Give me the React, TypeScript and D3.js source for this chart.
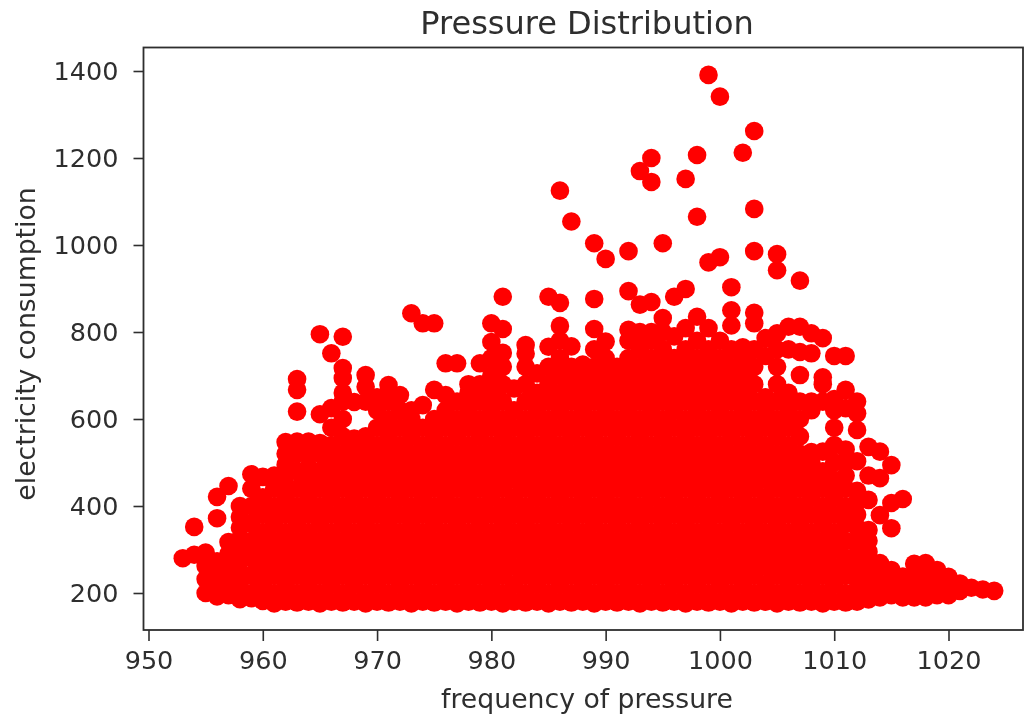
import { useEffect, useRef } from 'react';
import * as d3 from 'd3';

// pressure readings, one entry per whole hPa
const pressures = d3.range(953, 1025);

const xTicks = [950, 960, 970, 980, 990, 1000, 1010, 1020];
const yTicks = [200, 400, 600, 800, 1000, 1200, 1400];

// consumption values, top of column first
const consumption: number[][] = [
  [280],
  [352, 288],
  [293, 262, 232, 200],
  [421, 372, 273, 250, 225, 205, 192],
  [446, 317, 290, 265, 240, 215, 195],
  [400, 375, 350, 325, 300, 275, 250, 225, 205, 186],
  [473, 440, 400, 360, 320, 280, 240, 200, 188],
  [467, 420, 380, 340, 300, 260, 220, 182],
  [470, 440, 400, 360, 320, 280, 240, 200, 176],
  [547, 520, 495, 470, 440, 420, 380, 340, 300, 260, 220, 180],
  [692, 667, 617, 548, 520, 480, 440, 400, 360, 320, 280, 240, 200, 178],
  [548, 520, 490, 460, 420, 380, 340, 300, 260, 220, 180],
  [795, 611, 545, 520, 480, 440, 400, 360, 320, 280, 240, 200, 176],
  [751, 625, 580, 540, 500, 460, 420, 380, 340, 300, 260, 220, 180],
  [789, 717, 694, 660, 640, 600, 560, 520, 480, 440, 400, 360, 320, 280, 240, 200, 178],
  [639, 555, 540, 500, 460, 420, 380, 340, 300, 260, 220, 180],
  [701, 674, 640, 560, 520, 480, 440, 400, 360, 320, 280, 240, 200, 176],
  [650, 620, 580, 540, 500, 460, 420, 380, 340, 300, 260, 220, 180],
  [678, 640, 600, 560, 520, 480, 440, 400, 360, 320, 280, 240, 200, 178],
  [655, 620, 580, 540, 500, 460, 420, 380, 340, 300, 260, 220, 180],
  [843, 620, 600, 560, 520, 480, 440, 400, 360, 320, 280, 240, 200, 176],
  [820, 632, 580, 540, 500, 460, 420, 380, 340, 300, 260, 220, 180],
  [820, 667, 600, 560, 520, 480, 440, 400, 360, 320, 280, 240, 200, 178],
  [728, 655, 620, 580, 540, 500, 460, 420, 380, 340, 300, 260, 220, 180],
  [728, 640, 600, 560, 520, 480, 440, 400, 360, 320, 280, 240, 200, 176],
  [680, 660, 620, 580, 540, 500, 460, 420, 380, 340, 300, 260, 220, 180],
  [728, 680, 640, 600, 560, 520, 480, 440, 400, 360, 320, 280, 240, 200, 178],
  [820, 777, 740, 700, 660, 620, 580, 540, 500, 460, 420, 380, 340, 300, 260, 220, 180],
  [881, 807, 752, 720, 680, 640, 600, 560, 520, 480, 440, 400, 360, 320, 280, 240, 200, 176],
  [670, 620, 580, 540, 500, 460, 420, 380, 340, 300, 260, 220, 180],
  [770, 750, 720, 680, 640, 600, 560, 520, 480, 440, 400, 360, 320, 280, 240, 200, 178],
  [705, 660, 620, 580, 540, 500, 460, 420, 380, 340, 300, 260, 220, 180],
  [881, 766, 720, 680, 640, 600, 560, 520, 480, 440, 400, 360, 320, 280, 240, 200, 176],
  [1125, 867, 814, 780, 740, 700, 660, 620, 580, 540, 500, 460, 420, 380, 340, 300, 260, 220, 180],
  [1054, 767, 720, 680, 640, 600, 560, 520, 480, 440, 400, 360, 320, 280, 240, 200, 178],
  [725, 700, 660, 620, 580, 540, 500, 460, 420, 380, 340, 300, 260, 220, 180],
  [1004, 876, 807, 760, 720, 680, 640, 600, 560, 520, 480, 440, 400, 360, 320, 280, 240, 200, 176],
  [968, 778, 740, 700, 660, 620, 580, 540, 500, 460, 420, 380, 340, 300, 260, 220, 180],
  [720, 680, 640, 600, 560, 520, 480, 440, 400, 360, 320, 280, 240, 200, 178],
  [986, 894, 805, 780, 740, 700, 660, 620, 580, 540, 500, 460, 420, 380, 340, 300, 260, 220, 180],
  [1170, 863, 800, 760, 720, 680, 640, 600, 560, 520, 480, 440, 400, 360, 320, 280, 240, 200, 176],
  [1200, 1145, 869, 800, 780, 740, 700, 660, 620, 580, 540, 500, 460, 420, 380, 340, 300, 260, 220, 180],
  [1004, 832, 800, 760, 720, 680, 640, 600, 560, 520, 480, 440, 400, 360, 320, 280, 240, 200, 178],
  [881, 790, 740, 700, 660, 620, 580, 540, 500, 460, 420, 380, 340, 300, 260, 220, 180],
  [1152, 899, 809, 760, 720, 680, 640, 600, 560, 520, 480, 440, 400, 360, 320, 280, 240, 200, 176],
  [1207, 1065, 835, 780, 740, 700, 660, 620, 580, 540, 500, 460, 420, 380, 340, 300, 260, 220, 180],
  [1391, 960, 809, 760, 720, 680, 640, 600, 560, 520, 480, 440, 400, 360, 320, 280, 240, 200, 178],
  [1341, 972, 780, 740, 700, 660, 620, 580, 540, 500, 460, 420, 380, 340, 300, 260, 220, 180],
  [903, 850, 815, 760, 720, 680, 640, 600, 560, 520, 480, 440, 400, 360, 320, 280, 240, 200, 176],
  [1212, 765, 740, 700, 660, 620, 580, 540, 500, 460, 420, 380, 340, 300, 260, 220, 180],
  [1262, 1083, 986, 844, 820, 760, 720, 680, 640, 600, 560, 520, 480, 440, 400, 360, 320, 280, 240, 200, 178],
  [786, 745, 650, 620, 580, 540, 500, 460, 420, 380, 340, 300, 260, 220, 180],
  [979, 942, 797, 760, 720, 680, 640, 600, 560, 520, 480, 440, 400, 360, 320, 280, 240, 200, 176],
  [812, 760, 660, 620, 580, 540, 500, 460, 420, 380, 340, 300, 260, 220, 180],
  [918, 812, 754, 701, 640, 600, 560, 520, 480, 440, 400, 360, 320, 280, 240, 200, 178],
  [797, 751, 640, 620, 524, 500, 460, 420, 380, 340, 300, 260, 220, 180],
  [786, 696, 680, 640, 525, 480, 440, 400, 360, 320, 280, 240, 200, 176],
  [745, 646, 620, 580, 540, 500, 460, 420, 380, 340, 300, 260, 220, 180],
  [745, 667, 625, 530, 500, 470, 440, 400, 360, 320, 280, 240, 200, 178],
  [640, 613, 575, 503, 435, 410, 380, 350, 320, 290, 260, 230, 200, 180],
  [536, 470, 414, 345, 320, 295, 270, 245, 220, 200, 185],
  [525, 464, 379, 269, 245, 225, 205, 190],
  [494, 407, 349, 253, 225, 195],
  [416, 238, 210, 190],
  [267, 235, 205, 190],
  [269, 240, 210, 190],
  [253, 225, 200, 195],
  [237, 215, 195],
  [222, 205],
  [212],
  [208],
  [205],
];

const points = pressures.flatMap((p, i) => consumption[i].map(v => ({ p, v })));

const width = 1024;
const height = 715;
const left = 143.5;
const right = 1023;
const top = 47.5;
const bottom = 630;
const fontFamily = '"DejaVu Sans", sans-serif';
const ink = '#2e2e2e';

export default function App() {
  const svgRef = useRef<SVGSVGElement>(null);

  useEffect(() => {
    if (!svgRef.current) return;
    const svg = d3.select(svgRef.current);
    svg.selectAll('*').remove();

    const x = d3.scaleLinear().domain([950, 1020]).range([148.5, 948.5]);
    const y = d3.scaleLinear().domain([200, 1400]).range([593, 71]);

    // Points
    svg.append('g')
      .selectAll('circle')
      .data(points)
      .join('circle')
      .attr('cx', d => x(d.p))
      .attr('cy', d => y(d.v))
      .attr('r', 9.3)
      .attr('fill', '#ff0000');

    // Axes
    const xAxis = svg.append('g')
      .attr('transform', `translate(0,${bottom})`)
      .call(d3.axisBottom(x).tickValues(xTicks).tickSize(11).tickPadding(10).tickFormat(d => String(d)));
    const yAxis = svg.append('g')
      .attr('transform', `translate(${left},0)`)
      .call(d3.axisLeft(y).tickValues(yTicks).tickSize(10).tickPadding(15).tickFormat(d => String(d)));

    [xAxis, yAxis].forEach(axis => {
      axis.select('.domain').remove();
      axis.selectAll('line').attr('stroke', ink).attr('stroke-width', 1.6);
      axis.selectAll('text')
        .style('font-family', fontFamily)
        .style('font-size', '25.5px')
        .style('fill', ink);
    });

    // Frame
    svg.append('rect')
      .attr('x', left)
      .attr('y', top)
      .attr('width', right - left)
      .attr('height', bottom - top)
      .attr('fill', 'none')
      .attr('stroke', ink)
      .attr('stroke-width', 1.8);

    // Labels
    svg.append('text')
      .attr('x', 587)
      .attr('y', 34)
      .attr('text-anchor', 'middle')
      .style('font-family', fontFamily)
      .style('font-size', '32px')
      .style('fill', ink)
      .text('Pressure Distribution');

    svg.append('text')
      .attr('x', 587)
      .attr('y', 708)
      .attr('text-anchor', 'middle')
      .style('font-family', fontFamily)
      .style('font-size', '26.7px')
      .style('fill', ink)
      .text('frequency of pressure');

    svg.append('text')
      .attr('transform', 'rotate(-90)')
      .attr('x', -344)
      .attr('y', 35)
      .attr('text-anchor', 'middle')
      .style('font-family', fontFamily)
      .style('font-size', '26.7px')
      .style('fill', ink)
      .text('electricity consumption');
  }, []);

  return (
    <svg
      ref={svgRef}
      width={width}
      height={height}
      viewBox={`0 0 ${width} ${height}`}
      style={{ position: 'fixed', left: 0, top: 0 }}
    />
  );
}
